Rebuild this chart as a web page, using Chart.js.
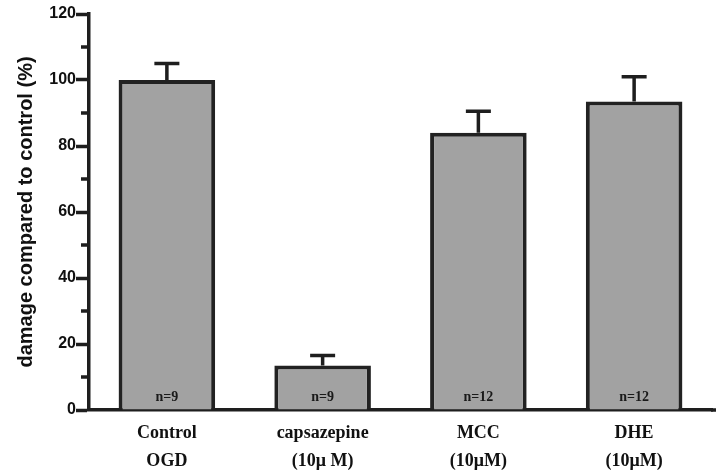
<!DOCTYPE html>
<html>
<head>
<meta charset="utf-8">
<script src="https://cdn.jsdelivr.net/npm/chart.js@4.4.0/dist/chart.umd.min.js"></script>
<style>
html,body{margin:0;padding:0;background:#fff;}
#wrap{width:720px;height:474px;position:relative;}
</style>
</head>
<body>
<div id="wrap"><canvas id="c" width="720" height="474"></canvas></div>
<script>
const categories = [["Control","OGD"],["capsazepine","(10\u03bc M)"],["MCC","(10\u03bcM)"],["DHE","(10\u03bcM)"]];
const values = [100, 13.5, 84, 93.5];
const errors = [5, 3, 6.5, 7.5];
const nLabels = ["n=9","n=9","n=12","n=12"];
const yTicks = [0, 20, 40, 60, 80, 100, 120];
const minorTicks = [10, 30, 50, 70, 90, 110];

const extras = {
  id: 'extras',
  afterDatasetsDraw(chart) {
    const ctx = chart.ctx;
    const meta = chart.getDatasetMeta(0);
    const y = chart.scales.y;
    ctx.save();
    ctx.strokeStyle = '#1e1e1e';
    ctx.lineWidth = 3.5;
    meta.data.forEach((bar, i) => {
      const top = y.getPixelForValue(values[i] + errors[i]);
      const base = y.getPixelForValue(values[i]);
      ctx.beginPath();
      ctx.moveTo(bar.x, base);
      ctx.lineTo(bar.x, top);
      ctx.moveTo(bar.x - 12.5, top);
      ctx.lineTo(bar.x + 12.5, top);
      ctx.stroke();
    });
    ctx.fillStyle = '#1a1a1a';
    ctx.font = 'bold 14px "Liberation Serif", "Times New Roman", serif';
    ctx.textAlign = 'center';
    ctx.textBaseline = 'middle';
    meta.data.forEach((bar, i) => {
      ctx.fillText(nLabels[i], bar.x, y.getPixelForValue(0) - 13);
    });
    const xl = chart.chartArea.left;
    minorTicks.forEach(v => {
      const py = y.getPixelForValue(v);
      ctx.beginPath();
      ctx.moveTo(xl - 8, py);
      ctx.lineTo(xl, py);
      ctx.stroke();
    });
    // extend x axis line slightly to the right like the reference
    ctx.beginPath();
    const py0 = y.getPixelForValue(0);
    ctx.moveTo(chart.chartArea.right - 1, py0);
    ctx.lineTo(chart.chartArea.right + 4, py0);
    ctx.stroke();
    ctx.restore();
  }
};

new Chart(document.getElementById('c'), {
  type: 'bar',
  data: {
    labels: categories,
    datasets: [{
      data: values,
      backgroundColor: '#a2a2a2',
      borderColor: '#222222',
      borderWidth: 4,
      borderSkipped: 'start',
      barPercentage: 0.62,
      categoryPercentage: 1.0
    }]
  },
  options: {
    responsive: false,
    animation: false,
    layout: { padding: { top: 14, right: 8, left: 0, bottom: 0 } },
    plugins: { legend: { display: false }, tooltip: { enabled: false } },
    scales: {
      x: {
        grid: { display: false, drawTicks: false },
        border: { display: true, color: '#1e1e1e', width: 3.5 },
        ticks: {
          color: '#111',
          padding: 9,
          font: { family: '"Liberation Serif", "Times New Roman", serif', size: 18, weight: 'bold', lineHeight: 1.55 },
          maxRotation: 0, autoSkip: false
        },
        afterFit(s) { s.height = 64; }
      },
      y: {
        min: 0, max: 120,
        afterBuildTicks(s) { s.ticks = yTicks.map(v => ({ value: v })); },
        grid: { display: true, drawOnChartArea: false, drawTicks: true, tickLength: 13, tickWidth: 3.5, tickColor: '#1e1e1e' },
        border: { display: true, color: '#1e1e1e', width: 3.5 },
        ticks: {
          color: '#111', padding: 0,
          font: { family: '"Liberation Sans", Arial, sans-serif', size: 16, weight: 'bold' }
        },
        title: {
          display: true,
          text: 'damage compared to control (%)',
          color: '#111',
          padding: { top: 14, bottom: 0 },
          font: { family: '"Liberation Sans", Arial, sans-serif', size: 20, weight: 'bold' }
        },
        afterFit(s) { s.width = 89; }
      }
    }
  },
  plugins: [extras]
});
</script>
</body>
</html>
